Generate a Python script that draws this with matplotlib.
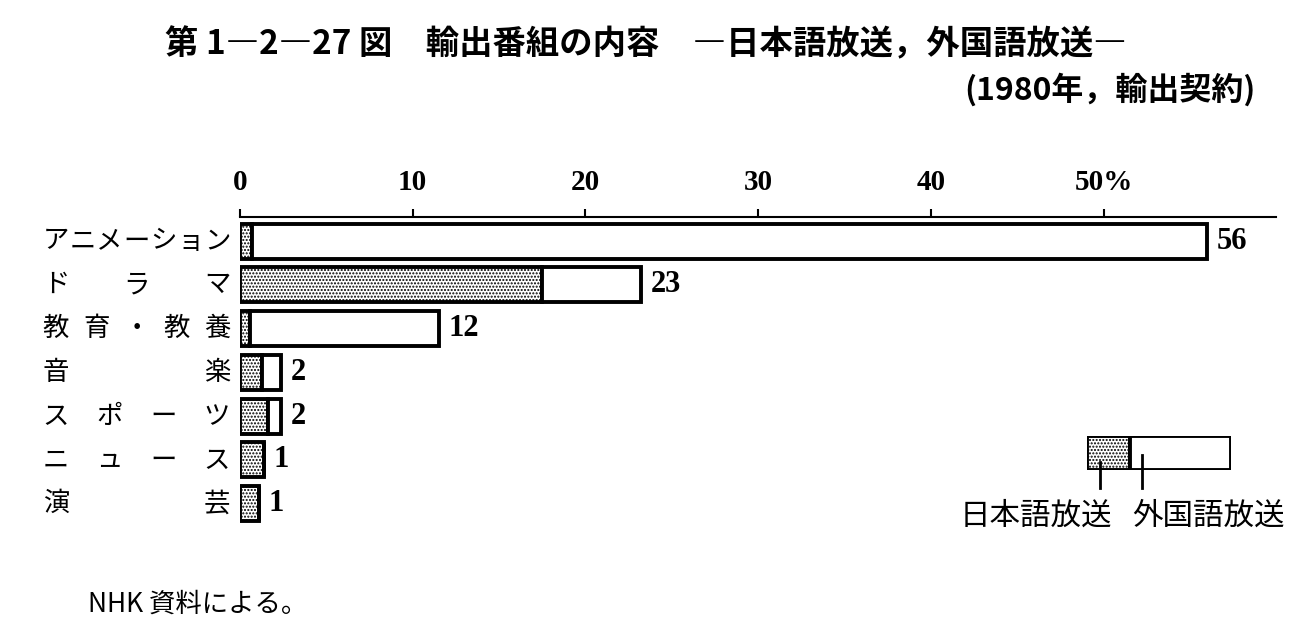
import numpy as np
import matplotlib
matplotlib.use("Agg")
import matplotlib.pyplot as plt
from matplotlib.transforms import blended_transform_factory
from matplotlib.lines import Line2D

plt.rcParams['font.family'] = ['Noto Sans CJK JP', 'DejaVu Sans']
plt.rcParams['hatch.linewidth'] = 1.0

# data (percent of exported programmes, 1980)
categories = ['アニメーション', 'ドラマ', '教育・教養', '音楽', 'スポーツ', 'ニュース', '演芸']
japanese = [0.7, 17.5, 0.6, 1.3, 1.6, 1.4, 1.1]
foreign = [55.3, 5.7, 10.9, 1.1, 0.8, 0.0, 0.0]
value_labels = ['56', '23', '12', '2', '2', '1', '1']
xticks = [0, 10, 20, 30, 40, 50]
xtick_labels = ['0', '10', '20', '30', '40', '50%']

W, H = 1309, 641
fig = plt.figure(figsize=(W / 100, H / 100), dpi=100)


def px(x, y):
    return x / W, 1 - y / H


# main axes: 0 at x=240, axis line at y=217
left, right, top, bottom = 240, 1276, 217, 530
ax = fig.add_axes([left / W, 1 - bottom / H, (right - left) / W, (bottom - top) / H])

y = np.arange(len(categories))
jp_style = dict(color='white', edgecolor='black', hatch='.....', linewidth=2.8)
ax.barh(y, japanese, height=0.8, **jp_style)
ax.barh(y, foreign, left=japanese, height=0.8, color='white', edgecolor='black', linewidth=2.8)

totals = np.array(japanese) + np.array(foreign)
for yi, t, lab in zip(y, totals, value_labels):
    ax.annotate(lab, (t, yi), xytext=(7, 0), textcoords='offset points',
                va='center', ha='left', fontsize=22, family='Liberation Serif', fontweight='bold')

ax.set_xlim(0, (right - left) / 17.27)
ax.set_ylim(6.6, -0.55)
for s in ['right', 'bottom', 'left']:
    ax.spines[s].set_visible(False)
ax.spines['top'].set_linewidth(1.5)
ax.xaxis.tick_top()
ax.set_xticks(xticks)
ax.set_xticklabels(xtick_labels, family='Liberation Serif', fontsize=21, fontweight='bold')
ax.tick_params(axis='x', direction='out', length=6, width=1.5, pad=9)
ax.set_yticks([])

# category labels, characters spread between x=43 and x=230
trans = blended_transform_factory(fig.transFigure, ax.transData)
for yi, cat in zip(y, categories):
    n = len(cat)
    xs = np.linspace(56, 217, n) if n > 1 else [56]
    for ch, xc in zip(cat, xs):
        ax.text(xc / W, yi, ch, transform=trans, ha='center', va='center',
                fontsize=19, clip_on=False)

# title
fig.text(*px(165, 45), '第 1―2―27 図　輸出番組の内容　―日本語放送，外国語放送―',
         fontsize=24, fontweight='bold', ha='left', va='center')
fig.text(*px(1256, 90), '(1980年，輸出契約)', fontsize=23, fontweight='bold',
         ha='right', va='center')

# legend
lax = fig.add_axes([1087 / W, 1 - 470 / H, 144 / W, 34 / H])
lax.barh([0], [0.3], height=1, **jp_style)
lax.barh([0], [0.7], left=[0.3], height=1, color='white', edgecolor='black', linewidth=2.8)
lax.set_xlim(0, 1)
lax.set_ylim(-0.5, 0.5)
lax.axis('off')
fig.add_artist(Line2D([1100 / W, 1100 / W], [1 - 462 / H, 1 - 488 / H], color='black', lw=2))
fig.add_artist(Line2D([1142 / W, 1142 / W], [1 - 455 / H, 1 - 488 / H], color='black', lw=2))
fig.text(*px(1036, 516), '日本語放送', fontsize=22, ha='center', va='center')
fig.text(*px(1208, 516), '外国語放送', fontsize=22, ha='center', va='center')

# source note
fig.text(*px(88, 604), 'NHK 資料による。', fontsize=19, ha='left', va='center')

fig.savefig('out.png', dpi=100)
